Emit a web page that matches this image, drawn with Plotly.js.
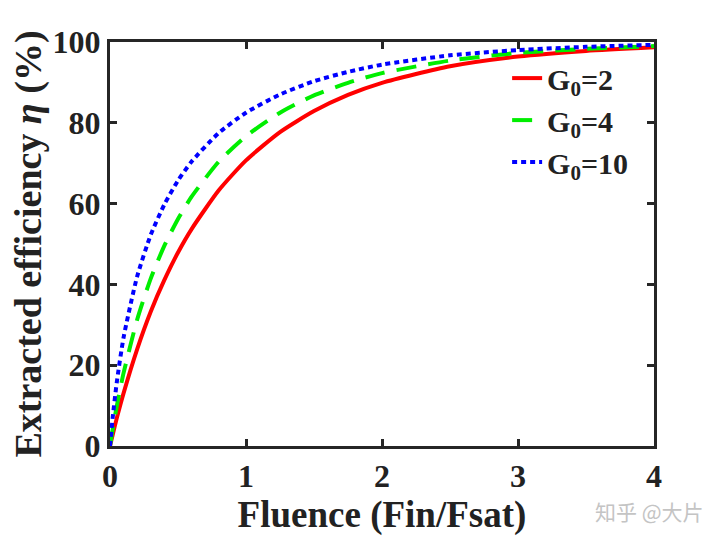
<!DOCTYPE html>
<html>
<head>
<meta charset="utf-8">
<script src="https://cdn.plot.ly/plotly-3.0.1.min.js"></script>
<style>
  html, body { margin: 0; padding: 0; background: #fff; }
  #graph { width: 720px; height: 540px; }
</style>
</head>
<body>
<div id="graph"></div>
<script>
// fluence values (Fin/Fsat)
const fluence = [0, 0.02, 0.05, 0.1, 0.2, 0.3, 0.4, 0.5, 0.6, 0.8, 1.0, 1.25, 1.5, 1.75, 2.0, 2.5, 3.0, 3.5, 4.0];

// extracted efficiency (%) for each gain
const eta_g2  = [0, 2.8, 6.9, 13.1, 24.0, 33.3, 41.1, 47.9, 53.7, 63.3, 70.7, 77.7, 82.9, 86.9, 89.9, 94.0, 96.4, 97.8, 98.7];
const eta_g4  = [0, 4.2, 9.9, 18.1, 31.3, 41.5, 49.6, 56.2, 61.7, 70.4, 76.7, 82.5, 86.8, 89.9, 92.3, 95.4, 97.3, 98.3, 99.0];
const eta_g10 = [0, 7.1, 15.8, 26.9, 42.0, 52.3, 59.8, 65.7, 70.4, 77.5, 82.5, 87.0, 90.3, 92.6, 94.4, 96.7, 98.0, 98.8, 99.3];

const names = ['G<sub>0</sub>=2', 'G<sub>0</sub>=4', 'G<sub>0</sub>=10'];
const xticks = [0, 1, 2, 3, 4];
const yticks = [0, 20, 40, 60, 80, 100];

const serif = '"Liberation Serif", "Times New Roman", serif';
const frame = '#262626';

const traces = [
  {
    x: fluence, y: eta_g2, name: names[0],
    mode: 'lines', type: 'scatter',
    line: {color: '#ff0000', width: 4, shape: 'spline', smoothing: 0.6}
  },
  {
    x: fluence, y: eta_g4, name: names[1],
    mode: 'lines', type: 'scatter',
    line: {color: '#00ee00', width: 4, dash: '20px,12px', shape: 'spline', smoothing: 0.6}
  },
  {
    x: fluence, y: eta_g10, name: names[2],
    mode: 'lines', type: 'scatter',
    line: {color: '#0000ff', width: 4, dash: '5px,4px', shape: 'spline', smoothing: 0.6}
  }
];

const axisCommon = {
  showline: true,
  linecolor: frame,
  linewidth: 3,
  mirror: 'ticks',
  ticks: 'inside',
  ticklen: 7,
  tickwidth: 3,
  tickcolor: frame,
  showgrid: false,
  zeroline: false,
  tickfont: {family: serif, size: 32, color: '#222', weight: 'bold'}
};

const layout = {
  width: 720,
  height: 540,
  margin: {l: 110, r: 66, t: 42, b: 94},
  paper_bgcolor: '#fff',
  plot_bgcolor: '#fff',
  font: {family: serif, color: '#222'},
  xaxis: Object.assign({}, axisCommon, {
    range: [0, 4],
    tickvals: xticks,
    ticktext: xticks.map(String),
    title: {text: '<b>Fluence (Fin/Fsat)</b>', font: {family: serif, size: 37, color: '#222'}, standoff: 8}
  }),
  yaxis: Object.assign({}, axisCommon, {
    range: [0, 100],
    tickvals: yticks,
    ticktext: yticks.map(String),
    title: {text: '<b>Extracted efficiency <i>η</i> (%)</b>', font: {family: serif, size: 38, color: '#222'}, standoff: 0}
  }),
  showlegend: true,
  legend: {
    x: 0.73, y: 0.975,
    xanchor: 'left', yanchor: 'top',
    bgcolor: 'rgba(0,0,0,0)',
    font: {family: serif, size: 30, color: '#222', weight: 'bold'},
    tracegroupgap: 0
  },
  annotations: [{
    text: '知乎 @大片',
    xref: 'paper', yref: 'paper',
    x: 1.095, y: -0.16,
    xanchor: 'right', yanchor: 'middle',
    showarrow: false,
    font: {family: '"Noto Sans CJK SC", sans-serif', size: 21, color: '#c4c4c4'}
  }]
};

Plotly.newPlot('graph', traces, layout, {displayModeBar: false, staticPlot: true});
</script>
</body>
</html>
